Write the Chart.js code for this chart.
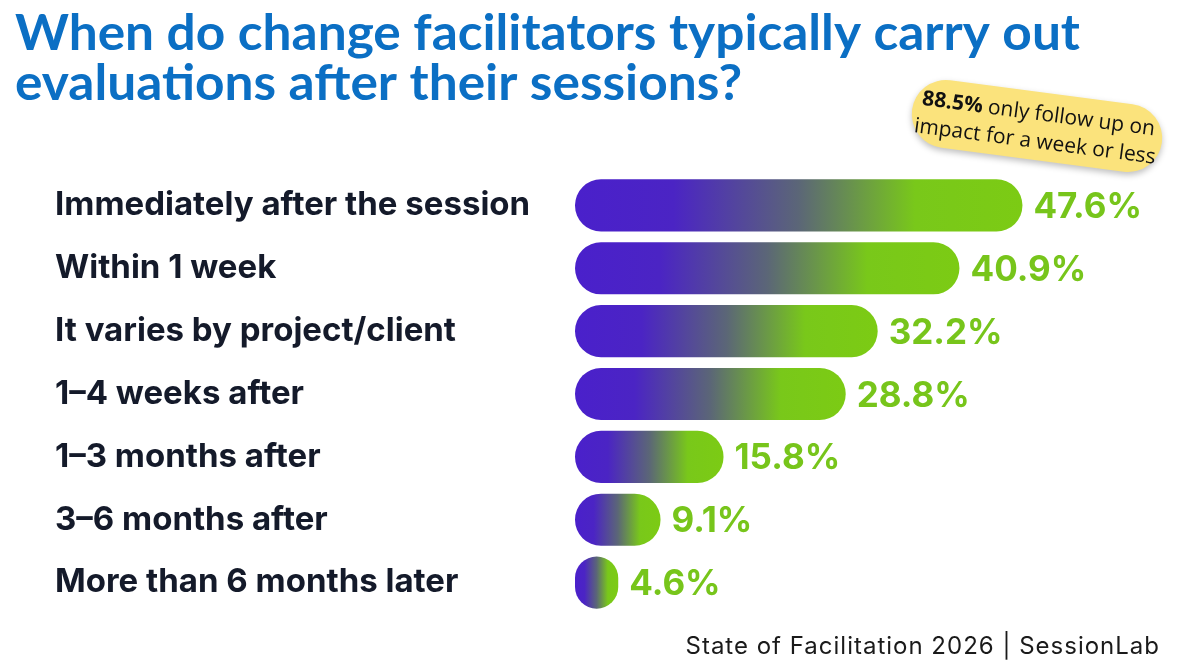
<!DOCTYPE html>
<html>
<head>
    <meta charset="utf-8">
    <title>Evaluation timing</title>
    <script src="https://cdn.jsdelivr.net/npm/chart.js@4.4.1/dist/chart.umd.min.js"></script>
    <style>
        html, body { margin: 0; padding: 0; background: #fff; }
        #wrap { width: 1200px; height: 668px; position: relative; }
    </style>
</head>
<body>
    <div id="wrap">
        <canvas id="myChart" width="1200" height="668"></canvas>
    </div>
    <script>
        // data
        const categories = [
            'Immediately after the session',
            'Within 1 week',
            'It varies by project/client',
            '1\u20134 weeks after',
            '1\u20133 months after',
            '3\u20136 months after',
            'More than 6 months later'
        ];
        const shares = [47.6, 40.9, 32.2, 28.8, 15.8, 9.1, 4.6];
        const titleLines = ['When do change facilitators typically carry out', 'evaluations after their sessions?'];
        const noteBold = '88.5%';
        const noteLines = [' only follow up on', 'impact for a week or less'];
        const footer = 'State of Facilitation 2026 | SessionLab';

        const PURPLE = '#4a20cb';
        const GREEN = '#7ccb14';

        function barGradient(context) {
            const chart = context.chart;
            if (!chart.chartArea || context.dataIndex === undefined) return PURPLE;
            const x = chart.scales.x;
            const x0 = x.getPixelForValue(0);
            const x1 = x.getPixelForValue(shares[context.dataIndex]);
            const g = chart.ctx.createLinearGradient(x0, 0, x1, 0);
            g.addColorStop(0, PURPLE);
            g.addColorStop(0.22, '#4b24c4');
            g.addColorStop(0.5, '#5b6677');
            g.addColorStop(0.76, '#79c81a');
            g.addColorStop(1, GREEN);
            return g;
        }

        // title, note, footer and value labels
        const decor = {
            id: 'decor',
            afterDatasetsDraw(chart) {
                const ctx = chart.ctx;
                const meta = chart.getDatasetMeta(0);
                ctx.save();
                ctx.font = '700 35px Inter';
                ctx.fillStyle = '#77c51b';
                ctx.textBaseline = 'middle';
                ctx.textAlign = 'left';
                meta.data.forEach((bar, i) => {
                    ctx.fillText(shares[i].toFixed(1) + '%', bar.x + 11, bar.y + 2);
                });
                ctx.restore();
            },
            afterDraw(chart) {
                const ctx = chart.ctx;
                ctx.save();
                // title
                ctx.fillStyle = '#0b6fc4';
                ctx.font = '700 50px Lato';
                ctx.textBaseline = 'alphabetic';
                ctx.textAlign = 'left';
                const w1 = ctx.measureText(titleLines[0]).width;
                const sx = 1065 / w1;
                ctx.save();
                ctx.translate(15, 0);
                ctx.scale(sx, 1);
                ctx.fillText(titleLines[0], 0, 50);
                ctx.fillText(titleLines[1], 0, 100);
                ctx.restore();

                // yellow note
                ctx.save();
                ctx.translate(1037, 126);
                ctx.rotate(7.5 * Math.PI / 180);
                ctx.shadowColor = 'rgba(0,0,0,0.25)';
                ctx.shadowBlur = 6;
                ctx.shadowOffsetY = 3;
                ctx.fillStyle = '#fbe37c';
                ctx.beginPath();
                ctx.roundRect(-126, -34, 252, 68, 34);
                ctx.fill();
                ctx.shadowColor = 'transparent';
                ctx.fillStyle = '#111';
                ctx.font = '700 21px "Open Sans"';
                const bw = ctx.measureText(noteBold).width;
                ctx.font = '400 21px "Open Sans"';
                const rw = ctx.measureText(noteLines[0]).width;
                let sx0 = -(bw + rw) / 2;
                ctx.font = '700 21px "Open Sans"';
                ctx.fillText(noteBold, sx0, -6);
                ctx.font = '400 21px "Open Sans"';
                ctx.fillText(noteLines[0], sx0 + bw, -6);
                ctx.textAlign = 'center';
                ctx.fillText(noteLines[1], 0, 22);
                ctx.restore();

                // footer
                ctx.fillStyle = '#1a1a1a';
                ctx.font = '400 24px Inter';
                ctx.letterSpacing = '1px';
                ctx.textAlign = 'right';
                ctx.fillText(footer, 1160, 654);
                ctx.restore();
            }
        };

        const config = {
            type: 'bar',
            data: {
                labels: categories,
                datasets: [{
                    data: shares,
                    backgroundColor: barGradient,
                    borderRadius: 26,
                    borderSkipped: false,
                    categoryPercentage: 1,
                    barPercentage: 0.83
                }]
            },
            options: {
                indexAxis: 'y',
                responsive: false,
                animation: false,
                layout: {
                    padding: { top: 174, bottom: 54, left: 55, right: 61 }
                },
                plugins: {
                    legend: { display: false },
                    tooltip: { enabled: false },
                    title: { display: false }
                },
                scales: {
                    x: {
                        display: false,
                        min: 0,
                        max: 60
                    },
                    y: {
                        grid: { display: false },
                        border: { display: false },
                        ticks: {
                            crossAlign: 'far',
                            autoSkip: false,
                            color: '#141a2a',
                            padding: 0,
                            font: { family: 'Inter', weight: '700', size: 33 }
                        },
                        afterFit(scale) {
                            scale.width = 520;
                        }
                    }
                }
            },
            plugins: [decor]
        };

        const myChart = new Chart(document.getElementById('myChart'), config);
    </script>
</body>
</html>
